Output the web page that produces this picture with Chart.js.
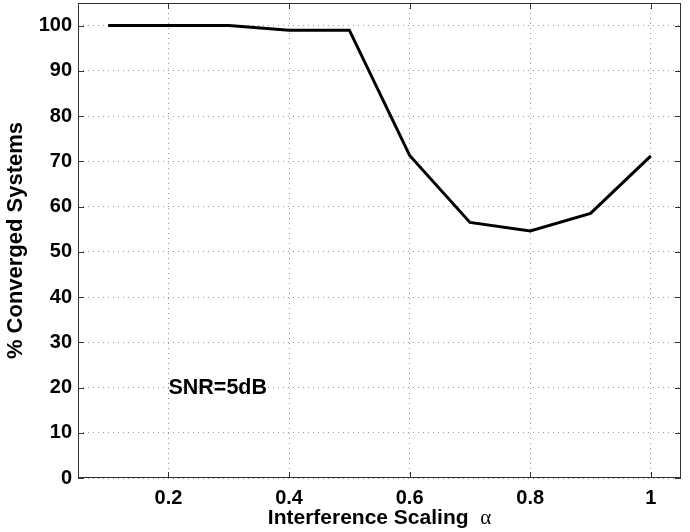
<!DOCTYPE html>
<html>
<head>
<meta charset="utf-8">
<script src="https://cdn.jsdelivr.net/npm/chart.js@4.4.0/dist/chart.umd.min.js"></script>
<style>
  html, body { margin: 0; padding: 0; background: #fff; }
  #wrap { width: 690px; height: 532px; position: relative; }
</style>
</head>
<body>
<div id="wrap"><canvas id="convChart"></canvas></div>
<script>
const alphaValues = [0.1, 0.2, 0.3, 0.4, 0.5, 0.6, 0.7, 0.8, 0.9, 1.0];
const convergedPct = [100, 100, 100, 99, 99, 71.3, 56.5, 54.6, 58.5, 71.2];
const xTickValues = [0.2, 0.4, 0.6, 0.8, 1];
const yTickValues = [0, 10, 20, 30, 40, 50, 60, 70, 80, 90, 100];
const annotationText = 'SNR=5dB';
const annotationPos = [0.2, 20];

document.addEventListener('DOMContentLoaded', function () {
    const ctx = document.getElementById('convChart');
    const tickFont = { family: 'Liberation Sans, Arial, sans-serif', size: 20, weight: 'bold' };

    // matlab-style box, inward ticks, annotation and x title with greek alpha
    const matlabFrame = {
        id: 'matlabFrame',
        afterDraw(chart) {
            const c = chart.ctx;
            const a = chart.chartArea;
            const xs = chart.scales.x;
            const ys = chart.scales.y;
            c.save();
            c.strokeStyle = '#333';
            c.lineWidth = 1;
            c.strokeRect(a.left + 0.5, a.top + 0.5, a.right - a.left - 1, a.bottom - a.top - 1);
            c.beginPath();
            xTickValues.forEach(v => {
                const px = Math.round(xs.getPixelForValue(v)) + 0.5;
                c.moveTo(px, a.bottom); c.lineTo(px, a.bottom - 6);
                c.moveTo(px, a.top); c.lineTo(px, a.top + 6);
            });
            yTickValues.forEach(v => {
                const py = Math.round(ys.getPixelForValue(v)) + 0.5;
                c.moveTo(a.left, py); c.lineTo(a.left + 6, py);
                c.moveTo(a.right, py); c.lineTo(a.right - 6, py);
            });
            c.stroke();

            c.fillStyle = '#000';
            c.font = 'bold 21.5px Liberation Sans, Arial, sans-serif';
            c.textBaseline = 'middle';
            c.textAlign = 'left';
            c.fillText(annotationText, xs.getPixelForValue(annotationPos[0]), ys.getPixelForValue(annotationPos[1]) + 1);

            const t1 = 'Interference Scaling  ';
            const t2 = '\u03B1';
            const sansFont = 'bold 21px Liberation Sans, Arial, sans-serif';
            const serifFont = '21px Liberation Serif, Times New Roman, serif';
            c.font = sansFont;
            const w1 = c.measureText(t1).width;
            c.font = serifFont;
            const w2 = c.measureText(t2).width;
            const cx = (a.left + a.right) / 2;
            const startX = cx - (w1 + w2) / 2;
            c.textBaseline = 'alphabetic';
            c.font = sansFont;
            c.fillText(t1, startX, 524);
            c.font = serifFont;
            c.fillText(t2, startX + w1, 524);
            c.restore();
        }
    };

    new Chart(ctx, {
        type: 'line',
        data: {
            datasets: [{
                label: '% Converged',
                data: alphaValues.map((x, i) => ({ x: x, y: convergedPct[i] })),
                borderColor: '#000',
                borderWidth: 3,
                pointRadius: 0,
                tension: 0,
                fill: false
            }]
        },
        options: {
            responsive: true,
            maintainAspectRatio: false,
            animation: false,
            layout: { padding: { top: 3, right: 9, left: 0, bottom: 0 } },
            plugins: {
                legend: { display: false },
                tooltip: { enabled: false }
            },
            scales: {
                x: {
                    type: 'linear',
                    min: 0.05,
                    max: 1.05,
                    afterBuildTicks: s => { s.ticks = xTickValues.map(v => ({ value: v })); },
                    afterFit: s => { s.height = 54; s.paddingLeft = 0; s.paddingRight = 0; },
                    border: { display: false, dash: [1, 4] },
                    grid: {
                        color: '#999',
                        lineWidth: 1,
                        drawTicks: false
                    },
                    ticks: {
                        color: '#000',
                        font: tickFont,
                        padding: 8,
                        maxRotation: 0,
                        callback: v => String(v)
                    },
                    title: { display: false }
                },
                y: {
                    type: 'linear',
                    min: 0,
                    max: 105,
                    afterBuildTicks: s => { s.ticks = yTickValues.map(v => ({ value: v })); },
                    afterFit: s => { s.width = 78; s.paddingTop = 0; s.paddingBottom = 0; },
                    border: { display: false, dash: [1, 4] },
                    grid: {
                        color: '#999',
                        lineWidth: 1,
                        drawTicks: false
                    },
                    ticks: {
                        color: '#000',
                        font: tickFont,
                        padding: 6
                    },
                    title: {
                        display: true,
                        text: '% Converged Systems',
                        color: '#000',
                        font: { family: 'Liberation Sans, Arial, sans-serif', size: 22, weight: 'bold' },
                        padding: { top: 3, bottom: 4 }
                    }
                }
            }
        },
        plugins: [matlabFrame]
    });
});
</script>
</body>
</html>
